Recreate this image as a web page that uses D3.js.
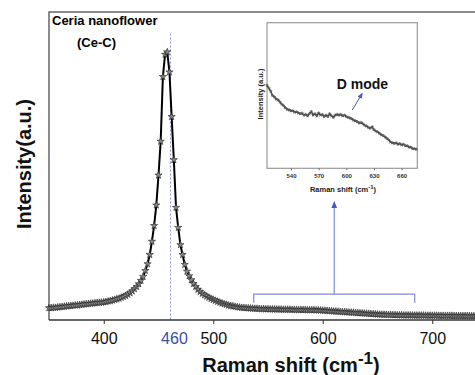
<!DOCTYPE html>
<html>
<head>
<meta charset="utf-8">
<script src="https://cdn.jsdelivr.net/npm/d3@7"></script>
<style>
  body { margin: 0; background: #fff; }
  svg { display: block; font-family: 'Liberation Sans', Arial, sans-serif; }
</style>
</head>
<body>
<div id="chart"></div>
<script>
// main spectrum, sampled every 2 cm-1 from 350
const shiftStart = 350
const shiftStep = 2
const intensity = [
  39, 39.5, 40.5, 40, 41.5, 42, 43, 43.5, 45, 45.5, 46, 47, 48, 48.5, 49.5, 50, 51, 52, 52.5, 53.5, 54, 55, 56, 56.5, 57,
  58, 59, 61, 62, 64, 66, 68, 70, 73, 76, 79, 83, 88, 94, 101, 108, 117, 128, 141, 160, 182, 212, 255, 306, 373, 470, 580, 790, 862, 870,
  805, 660, 520, 365, 300, 244, 212, 180, 158, 143, 130, 118, 108, 99, 92, 86, 81, 77, 73, 69,
  66, 63, 60, 57, 54.5, 52, 50, 48, 46, 45,
  43.5, 42, 41, 40, 39.5, 39, 38.5, 38, 37.5, 37,
  37, 36.5, 36, 36, 35.5, 35.5, 35, 35, 35, 34.5,
  34.5, 34.5, 34, 34, 34, 34, 33.5, 33.5, 33.5, 33,
  33, 33, 33, 32.5, 32.5, 32.5, 32.5, 32, 32, 31.5,
  31, 30.5, 30, 29.5, 29, 28.5, 28, 27.5, 27, 26.5,
  26, 25.5, 25, 24.5, 24, 23.5, 23, 22.5, 22, 21.5,
  21, 20.5, 20, 19.5, 19, 18.5, 18, 18, 17.5, 17.5,
  17, 17, 16.5, 16.5, 16, 16, 16, 15.5, 15.5, 15.5,
  15.5, 15, 15, 15, 15, 15, 15, 14.5, 14.5, 14.5,
  14.5, 14.5, 14.5, 14, 14, 14, 14, 14, 14, 14, 13.5, 13.5, 13.5,
  13.5, 13.5, 13.5, 13.5, 13.5, 13, 13, 13, 13, 13, 13, 13, 13
]
const xTicks = [400, 500, 600, 700]
const peakShift = 460

// inset (D mode region), sampled every 2 cm-1 from 514
const insetStart = 514
const insetStep = 2
const insetIntensity = [
  57, 55, 53, 50, 49, 47.5, 47, 45.5, 44, 43, 41.5, 40.5, 40, 39.5, 39.5, 38.5, 38.8, 38, 37.5, 37.8,
  36.5, 37, 36, 37.5, 39, 36.5, 37.5, 36, 38, 36.5, 37, 35.5, 36.5, 35.5, 37.5, 36, 35, 36.5, 37, 36.5,
  37, 36, 36.5, 35.5, 35, 34.5, 34, 33, 32.5, 32, 31, 31.5, 30.5, 29.5, 29, 28, 27.5, 28.5, 26.5, 25.5,
  25, 24, 23, 22.5, 21.5, 20.5, 19.5, 18, 17.5, 17, 17.5, 16.5, 17, 16, 16.5, 15.5, 15.5, 14.5, 14.5, 13.5,
  13.5, 13
]
const insetTicks = [540, 570, 600, 630, 660]
const bracketRange = [537, 684]

const data = intensity.map((v, i) => ({ x: shiftStart + i * shiftStep, y: v }))
const insetData = insetIntensity.map((v, i) => ({ x: insetStart + i * insetStep, y: v }))

const width = 475
const height = 375
const margin = { top: 12, left: 49, bottom: 55 }

const svg = d3
  .select('#chart')
  .append('svg')
  .attr('width', width)
  .attr('height', height)

const blue = '#4657c2'
const defs = svg.append('defs')
defs
  .append('marker')
  .attr('id', 'head')
  .attr('viewBox', '0 0 10 10')
  .attr('refX', 5)
  .attr('refY', 5)
  .attr('markerWidth', 6)
  .attr('markerHeight', 6)
  .attr('orient', 'auto')
  .append('path')
  .attr('d', 'M0,1L10,5L0,9Z')
  .attr('fill', blue)

const xPositionScale = d3
  .scaleLinear()
  .domain([350, 750])
  .range([margin.left, margin.left + 400 * 1.095])

const yPositionScale = d3
  .scaleLinear()
  .domain([0, 1000])
  .range([height - margin.bottom, margin.top])

const y0 = height - margin.bottom

// frame: left and top lines
svg
  .append('path')
  .attr('d', `M${margin.left},${y0}V${margin.top}H${width}`)
  .attr('fill', 'none')
  .attr('stroke', '#666')
  .attr('stroke-width', 1.5)

// dotted line at the F2g peak
svg
  .append('line')
  .attr('x1', xPositionScale(peakShift) + 1)
  .attr('x2', xPositionScale(peakShift) + 1)
  .attr('y1', yPositionScale(930))
  .attr('y2', y0)
  .attr('stroke', '#8c8fe0')
  .attr('stroke-width', 1)
  .attr('stroke-dasharray', '2,2')

const line = d3
  .line()
  .x(d => xPositionScale(d.x))
  .y(d => yPositionScale(d.y))

svg
  .append('path')
  .datum(data)
  .attr('d', line)
  .attr('fill', 'none')
  .attr('stroke', '#000')
  .attr('stroke-width', 2)

const star = d3.symbol(d3.symbolStar).size(16)
svg
  .selectAll('.star')
  .data(data)
  .enter()
  .append('path')
  .attr('class', 'star')
  .attr('d', star)
  .attr('transform', d => `translate(${xPositionScale(d.x)},${yPositionScale(d.y)})`)
  .attr('fill', '#8a8a8a')
  .attr('stroke', '#222')
  .attr('stroke-width', 0.6)

const xAxis = d3
  .axisBottom(xPositionScale)
  .tickValues(xTicks)
  .tickSize(4)
  .tickPadding(9)
  .tickSizeOuter(0)
svg
  .append('g')
  .attr('class', 'axis x-axis')
  .attr('transform', 'translate(0,' + y0 + ')')
  .call(xAxis)

svg.select('.x-axis path').attr('stroke', '#333').attr('stroke-width', 1.5).attr('d', `M${margin.left},0H${width}`)
svg.selectAll('.x-axis line').attr('stroke', '#333')
svg
  .selectAll('.x-axis text')
  .attr('font-size', 16)
  .attr('font-family', 'Liberation Sans, Arial, sans-serif')
  .attr('fill', '#111')

svg
  .append('text')
  .attr('x', xPositionScale(peakShift) + 5)
  .attr('y', y0 + 23.5)
  .attr('text-anchor', 'middle')
  .attr('font-size', 16)
  .attr('fill', '#3b4ea6')
  .text(peakShift)

// axis titles
const xTitle = svg
  .append('text')
  .attr('x', 291)
  .attr('y', 372)
  .attr('text-anchor', 'middle')
  .attr('font-size', 20)
  .attr('font-weight', 'bold')
  .attr('fill', '#111')
xTitle.append('tspan').text('Raman shift (cm')
xTitle.append('tspan').attr('dy', -8).attr('font-size', 17).text('-1')
xTitle.append('tspan').attr('dy', 8).text(')')

svg
  .append('text')
  .attr('transform', 'translate(31,164) rotate(-90)')
  .attr('text-anchor', 'middle')
  .attr('font-size', 20)
  .attr('font-weight', 'bold')
  .attr('fill', '#111')
  .text('Intensity(a.u.)')

svg
  .append('text')
  .attr('x', 52)
  .attr('y', 25)
  .attr('font-size', 13)
  .attr('font-weight', 'bold')
  .text('Ceria nanoflower')
svg
  .append('text')
  .attr('x', 77)
  .attr('y', 47)
  .attr('font-size', 13)
  .attr('font-weight', 'bold')
  .text('(Ce-C)')

// bracket marking the zoomed region
const bx1 = xPositionScale(bracketRange[0])
const bx2 = xPositionScale(bracketRange[1])
const bxm = (bx1 + bx2) / 2
const by = yPositionScale(84)
const byTick = yPositionScale(56)
svg
  .append('path')
  .attr('d', `M${bx1},${byTick}V${by}H${bx2}V${byTick}`)
  .attr('fill', 'none')
  .attr('stroke', '#7f8ad8')
  .attr('stroke-width', 1.2)
svg
  .append('line')
  .attr('x1', bxm)
  .attr('x2', bxm)
  .attr('y1', by)
  .attr('y2', yPositionScale(375))
  .attr('stroke', '#7f8ad8')
  .attr('stroke-width', 1.2)
  .attr('marker-end', 'url(#head)')

// inset
const inset = { left: 267, right: 417.3, top: 22.7, bottom: 168.3 }
const insetX = d3.scaleLinear().domain([514, 677]).range([inset.left, inset.right])
const insetY = d3.scaleLinear().domain([0, 100]).range([inset.bottom, inset.top])

svg
  .append('rect')
  .attr('x', inset.left)
  .attr('y', inset.top)
  .attr('width', inset.right - inset.left)
  .attr('height', inset.bottom - inset.top)
  .attr('fill', '#fff')
  .attr('stroke', '#999')
  .attr('stroke-width', 1.2)

const insetLine = d3
  .line()
  .x(d => insetX(d.x))
  .y(d => insetY(d.y))
svg
  .append('path')
  .datum(insetData)
  .attr('d', insetLine)
  .attr('fill', 'none')
  .attr('stroke', '#444')
  .attr('stroke-width', 1.5)
svg
  .selectAll('.istar')
  .data(insetData)
  .enter()
  .append('path')
  .attr('class', 'istar')
  .attr('d', d3.symbol(d3.symbolStar).size(3))
  .attr('transform', d => `translate(${insetX(d.x)},${insetY(d.y)})`)
  .attr('fill', '#777')
  .attr('stroke', '#333')
  .attr('stroke-width', 0.3)

const insetAxis = d3
  .axisBottom(insetX)
  .tickValues(insetTicks)
  .tickSize(2)
  .tickPadding(3)
  .tickSizeOuter(0)
svg
  .append('g')
  .attr('class', 'inset-axis')
  .attr('transform', 'translate(0,' + inset.bottom + ')')
  .call(insetAxis)
svg.select('.inset-axis path').remove()
svg.selectAll('.inset-axis line').attr('stroke', '#666')
svg
  .selectAll('.inset-axis text')
  .attr('font-size', 6)
  .attr('font-weight', 'bold')
  .attr('font-family', 'Liberation Sans Narrow, Liberation Sans, Arial, sans-serif')
  .attr('fill', '#333')

const insetTitle = svg
  .append('text')
  .attr('x', 343)
  .attr('y', 192)
  .attr('text-anchor', 'middle')
  .attr('font-size', 7.5)
  .attr('font-weight', 'bold')
  .attr('fill', '#222')
insetTitle.append('tspan').text('Raman shift (cm')
insetTitle.append('tspan').attr('dy', -3).attr('font-size', 6).text('-1')
insetTitle.append('tspan').attr('dy', 3).text(')')

svg
  .append('text')
  .attr('transform', 'translate(263,94) rotate(-90)')
  .attr('text-anchor', 'middle')
  .attr('font-size', 7.5)
  .attr('font-weight', 'bold')
  .attr('fill', '#222')
  .text('Intensity (a.u.)')

svg
  .append('text')
  .attr('x', insetX(589.6))
  .attr('y', insetY(54.5))
  .attr('font-size', 14)
  .attr('font-weight', 'bold')
  .attr('fill', '#111')
  .text('D mode')

svg
  .append('line')
  .attr('x1', insetX(606.4))
  .attr('y1', insetY(40))
  .attr('x2', insetX(616.2))
  .attr('y2', insetY(50.3))
  .attr('stroke', blue)
  .attr('stroke-width', 1)
  .attr('marker-end', 'url(#head)')
</script>
</body>
</html>
